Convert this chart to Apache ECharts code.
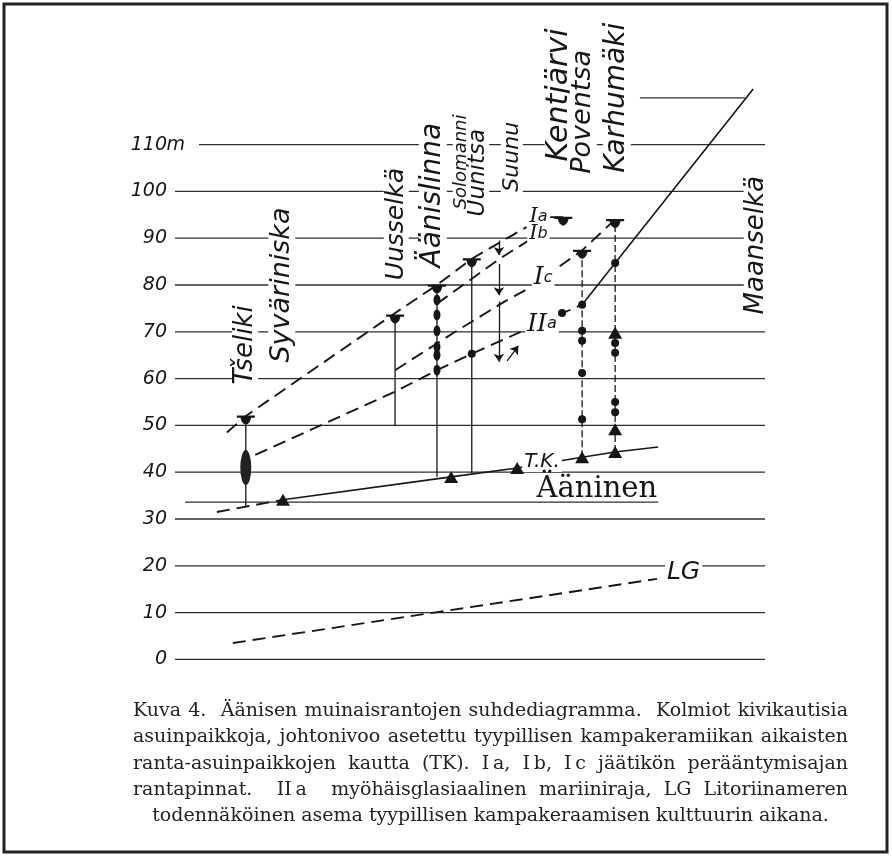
<!DOCTYPE html>
<html><head><meta charset="utf-8">
<script src="https://cdn.jsdelivr.net/npm/echarts@6/dist/echarts.min.js"></script>
<style>html,body{margin:0;padding:0;background:#fff}#c{width:892px;height:857px}</style>
</head><body><div id="c"></div>
<script>
// ---------- data (elevations in metres, x = distance along profile) ----------
const gridLevels = [0,10,20,30,40,50,60,70,80,90,100,110];
const lakeLevel = 33.6;            // Ääninen
const lakeX = [1.7, 81.9];
const topLevel = 120;
const topLineX = [78.8, 96.6];

const siteNames = ['Tšeliki','Uusselkä','Äänislinna','Uunitsa','Kentjärvi','Karhumäki'];
const siteDist  = [12.0, 37.3, 44.4, 50.3, 69.0, 74.6];
const siteLow   = [32.6, 50.0, 39.0, 39.8, 43.2, 44.3];
const siteHigh  = [52.0, 73.6, 80.0, 85.6, 87.4, 94.0];

const topMarkX = [12.0, 37.3, 44.4, 50.3, 65.8, 69.0, 74.6];
const topMarkY = [52.0, 73.6, 80.0, 85.6, 94.5, 87.4, 94.0];

const ovalX = [44.4, 44.4, 44.4, 44.4, 44.4, 44.4];
const ovalY = [76.8, 73.6, 70.2, 66.8, 65.0, 61.8];
const dotX = [50.3, 65.6, 69.0, 69.0, 69.0, 69.0, 69.0, 74.6, 74.6, 74.6, 74.6, 74.6];
const dotY = [65.3, 74.0, 75.8, 70.2, 68.1, 61.2, 51.3, 84.7, 67.6, 65.5, 55.0, 52.8];

const triX = [18.3, 46.8, 58.0, 69.0, 74.6, 74.6, 74.6];
const triY = [34.1, 39.0, 40.9, 43.2, 44.3, 49.2, 69.8];

const ellipseX = [12.0];
const ellipseY = [41.0];

const IaX = [8.8, 12.0, 37.3, 44.4, 50.3, 59.6];
const IaY = [48.5, 52.0, 74.0, 80.0, 85.6, 92.4];
const IaTailX = [63.6, 65.8];
const IaTailY = [94.5, 94.5];
const IbX = [44.4, 54.9, 59.8];
const IbY = [76.0, 85.5, 89.4];
const IcX = [37.3, 47.5, 55.9, 59.8];
const IcY = [61.8, 70.0, 76.5, 79.2];
const IcTailX = [65.2, 69.0, 74.6];
const IcTailY = [84.0, 87.4, 94.0];
const IIaX = [13.6, 37.3, 44.4, 50.3, 58.6];
const IIaY = [43.7, 57.2, 61.8, 65.3, 70.0];
const IIaTailX = [65.0, 69.0];
const IIaTailY = [73.6, 75.8];

const tkDashX = [7.1, 18.3];
const tkDashY = [31.5, 34.1];
const tkX = [18.3, 46.8, 58.0, 69.0, 74.6, 81.9];
const tkY = [34.1, 39.0, 40.9, 43.2, 44.3, 45.4];

const lgX = [9.8, 81.7];
const lgY = [3.5, 17.2];

const maanX = [69.0, 74.6, 98.0];
const maanY = [75.8, 84.7, 121.9];

const arrowX    = [54.9, 54.9, 54.9, 56.3];
const arrowFrom = [89.5, 84.5, 76.5, 63.8];
const arrowTo   = [86.4, 77.8, 63.6, 67.0];
const arrowXEnd = [54.9, 54.9, 54.9, 58.2];

const yTickLabels = ['0','10','20','30','40','50','60','70','80','90','100','110'];

// ---------- label layout (style) ----------
const siteLabels = [
  {t:'Tšeliki', x:11.9, y:67.2, s:26},
  {t:'Syväriniska', x:18.1, y:80.0, s:27},
  {t:'Uusselkä', x:37.5, y:93.0, s:25},
  {t:'Äänislinna', x:43.7, y:99.2, s:28},
  {t:'Solomanni', x:48.6, y:106.3, s:18},
  {t:'Uunitsa', x:51.3, y:104.0, s:23},
  {t:'Suunu', x:57.1, y:107.4, s:22},
  {t:'Kentjärvi', x:65.2, y:120.6, s:30},
  {t:'Poventsa', x:69.2, y:117.0, s:27},
  {t:'Karhumäki', x:74.9, y:120.0, s:28},
  {t:'Maanselkä', x:98.6, y:88.5, s:26}
];

const INK = '#161616';
const pts = (xs, ys) => xs.map((x, i) => [x, ys[i]]);
const clear = {color:'rgba(0,0,0,0)', opacity:1};

const series = [];
// horizontal levels
gridLevels.forEach(l => series.push({type:'line', data:[[0,l],[100,l]], symbol:'none', silent:true, z:1,
  lineStyle:{color:'#2e2e2e', width:1.3}}));
series.push({type:'line', data:[[lakeX[0],lakeLevel],[lakeX[1],lakeLevel]], symbol:'none', silent:true, z:1,
  lineStyle:{color:'#2e2e2e', width:1.3}});
series.push({type:'line', data:[[topLineX[0],topLevel],[topLineX[1],topLevel]], symbol:'none', silent:true, z:1,
  lineStyle:{color:'#2e2e2e', width:1.3}});

// site verticals
siteDist.forEach((x, i) => series.push({type:'line', data:[[x, siteLow[i]],[x, siteHigh[i]]], symbol:'none', silent:true, z:4,
  lineStyle:{color:INK, width:1.3, type: i >= 4 ? [7,3] : 'solid'}}));

// shorelines
const dashed = {color:INK, width:1.9, type:[13,7]};
[[IaX,IaY],[IaTailX,IaTailY],[IbX,IbY],[IcX,IcY],[IcTailX,IcTailY],[IIaX,IIaY],[IIaTailX,IIaTailY],[tkDashX,tkDashY],[lgX,lgY]]
  .forEach(([xs, ys]) => series.push({type:'line', data:pts(xs, ys), symbol:'none', silent:true, z:5, lineStyle:dashed}));
[[tkX,tkY],[maanX,maanY]].forEach(([xs, ys]) => series.push({type:'line', data:pts(xs, ys), symbol:'none', silent:true, z:5,
  lineStyle:{color:INK, width:1.6}}));

// arrows
series.push({type:'lines', coordinateSystem:'cartesian2d', silent:true, z:5,
  symbol:['none','arrow'], symbolSize:8,
  lineStyle:{color:INK, width:1.3, opacity:1},
  data: arrowX.map((x, i) => ({coords:[[x, arrowFrom[i]],[arrowXEnd[i], arrowTo[i]]]}))});

// markers
const topSym = 'path://M0,0L20,0L20,2L16,2L14.5,5.5L12,7.5L10,8L8,7.5L5.5,5.5L4,2L0,2Z';
const solid = {color:INK, opacity:1};
series.push({type:'scatter', data:pts(topMarkX, topMarkY), symbol:topSym, symbolSize:[18,9], symbolOffset:[0,4],
  itemStyle:solid, silent:true, z:7});
series.push({type:'scatter', data:pts(ovalX, ovalY), symbol:'circle', symbolSize:[7,11], itemStyle:solid, silent:true, z:7});
series.push({type:'scatter', data:pts(dotX, dotY), symbol:'circle', symbolSize:8, itemStyle:solid, silent:true, z:7});
series.push({type:'scatter', data:pts(triX, triY), symbol:'triangle', symbolSize:[14,12], itemStyle:solid, silent:true, z:7});
series.push({type:'scatter', data:pts(ellipseX, ellipseY), symbol:'circle', symbolSize:[11,35], itemStyle:{color:'#222', opacity:1}, silent:true, z:7});

// labels
const hand = {fontFamily:'DejaVu Sans', fontStyle:'italic', color:INK, backgroundColor:'#fff', opacity:1};
series.push({type:'scatter', symbolSize:1, itemStyle:clear, silent:true, z:3,
  data: siteLabels.map(l => ({value:[l.x, l.y], label:Object.assign({show:true, position:'inside', rotate:90,
     formatter:l.t, fontSize:l.s, padding:[0,2]}, hand)}))});

const romanRich = {
  r:{fontFamily:'DejaVu Serif', fontSize:21, color:INK},
  rr:{fontFamily:'DejaVu Serif', fontSize:25, color:INK},
  s:{fontFamily:'DejaVu Sans', fontStyle:'italic', fontSize:16, color:INK}
};
const markLabels = [
  {t:'{r|I}{s|a}', x:61.6, y:94.6},
  {t:'{r|I}{s|b}', x:61.6, y:91.0},
  {t:'{rr|I}{s|c}', x:62.4, y:81.5},
  {t:'{rr|II}{s|a}', x:62.2, y:71.6},
  {t:'T.K.', x:62.2, y:42.2, f:20},
  {t:'LG', x:86.2, y:18.6, f:25}
];
series.push({type:'scatter', symbolSize:1, itemStyle:clear, silent:true, z:6,
  data: markLabels.map(l => ({value:[l.x, l.y], label:Object.assign({show:true, position:'inside',
     formatter:l.t, fontSize:l.f || 20, rich:romanRich, padding:[0,2]}, hand)}))});
series.push({type:'scatter', symbolSize:1, itemStyle:clear, silent:true, z:6,
  data:[{value:[71.5, 36.4], label:{show:true, position:'inside', formatter:'Ääninen', fontFamily:'DejaVu Serif',
    fontSize:29, color:INK}}]});
// "m" after 110
series.push({type:'scatter', symbolSize:1, itemStyle:clear, silent:true, z:6,
  data:[{value:[0, 110], label:{show:true, position:'right', distance:0, offset:[-9,0], formatter:'m',
    fontFamily:'DejaVu Sans', fontStyle:'italic', fontSize:19, color:INK, backgroundColor:'#fff', padding:[0,14,0,0]}}]});

const chart = echarts.init(document.getElementById('c'), null, {renderer:'canvas'});

// caption
const caption = [
  'Kuva 4.  Äänisen muinaisrantojen suhdediagramma.  Kolmiot kivikautisia',
  'asuinpaikkoja, johtonivoo asetettu tyypillisen kampakeramiikan aikaisten',
  'ranta-asuinpaikkojen kautta (TK). I\u2009a, I\u2009b, I\u2009c jäätikön perääntymisajan',
  'rantapinnat.  II\u2009a  myöhäisglasiaalinen mariiniraja, LG Litoriinameren',
  'todennäköinen asema tyypillisen kampakeraamisen kulttuurin aikana.'
];
const capFont = 19, capFamily = 'DejaVu Serif';
const ctx = document.createElement('canvas').getContext('2d');
ctx.font = capFont + 'px "' + capFamily + '"';
const graphics = [{type:'rect', shape:{x:4, y:4, width:883, height:848}, style:{fill:'none', stroke:'#222', lineWidth:3}, silent:true}];
const capLeft = 133, capRight = 848, capTop = 711, capStep = 26.3;
caption.forEach((line, li) => {
  const y = capTop + li * capStep;
  const baseStyle = {fontSize:capFont, fontFamily:capFamily, fill:'#222', verticalAlign:'middle'};
  if (li === caption.length - 1) {
    graphics.push({type:'text', x:(capLeft + capRight) / 2, y, silent:true, style:Object.assign({text:line, align:'center'}, baseStyle)});
    return;
  }
  const words = line.split(/ +/);
  const seps = line.match(/ +/g).map(s => s.length);
  const wsum = words.reduce((a, w) => a + ctx.measureText(w).width, 0);
  const unitTotal = seps.reduce((a, b) => a + b, 0);
  const unit = Math.max(3, (capRight - capLeft - wsum) / unitTotal);
  let x = capLeft;
  words.forEach((w, wi) => {
    graphics.push({type:'text', x, y, silent:true, style:Object.assign({text:w, align:'left'}, baseStyle)});
    x += ctx.measureText(w).width + (wi < seps.length ? seps[wi] * unit : 0);
  });
});

chart.setOption({
  animation:false,
  backgroundColor:'#fff',
  grid:{left:175, right:127, top:51, bottom:197.6},
  xAxis:{type:'value', min:0, max:100, show:false},
  yAxis:{type:'value', min:0, max:130, interval:10,
    axisLine:{show:false}, axisTick:{show:false}, splitLine:{show:false},
    axisLabel:{margin:8, fontFamily:'DejaVu Sans', fontStyle:'italic', fontSize:19, color:INK,
      formatter: v => { const i = gridLevels.indexOf(v); return i >= 0 ? yTickLabels[i] : ''; }}},
  series,
  graphic:graphics
});
</script></body></html>
